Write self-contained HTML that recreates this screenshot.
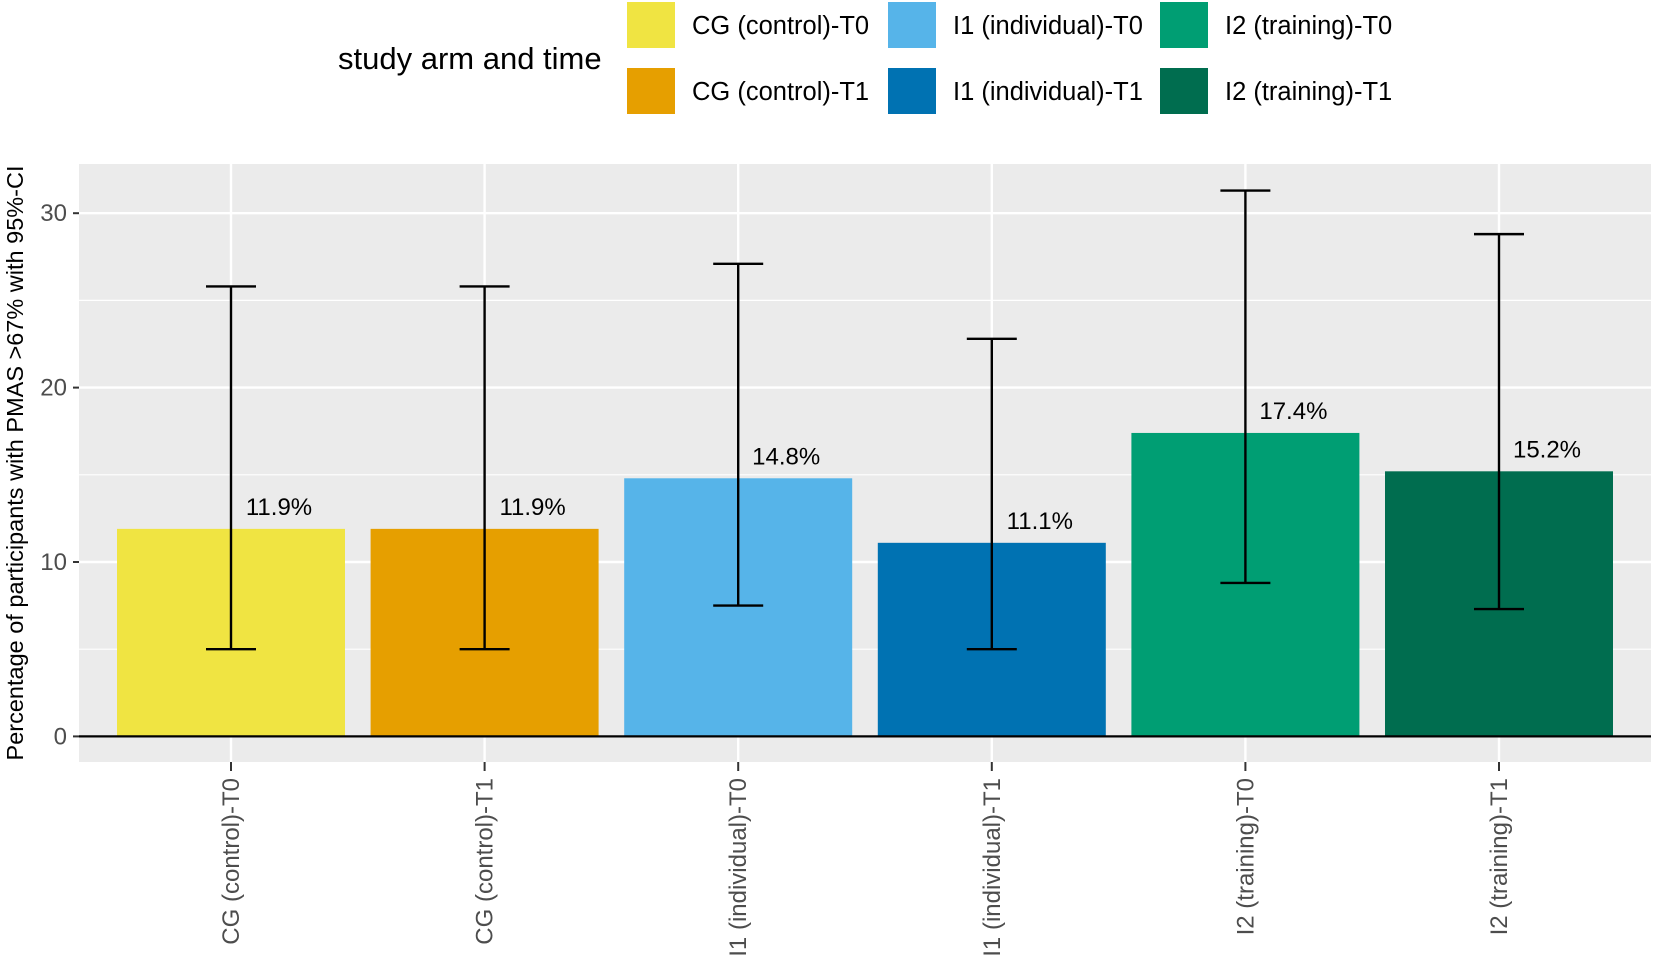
<!DOCTYPE html>
<html><head><meta charset="utf-8"><style>
body{margin:0;background:#fff;}
svg{display:block;font-family:"Liberation Sans",Arial,sans-serif;}
</style></head><body>
<svg id="chart" width="1654" height="972">
<g id="legend"></g>
<g id="plot"></g>
</svg>
<script>
const categories=["CG (control)-T0","CG (control)-T1","I1 (individual)-T0","I1 (individual)-T1","I2 (training)-T0","I2 (training)-T1"];
const values=[11.9,11.9,14.8,11.1,17.4,15.2];
const lower=[5.0,5.0,7.5,5.0,8.8,7.3];
const upper=[25.8,25.8,27.1,22.8,31.3,28.8];
const valueLabels=["11.9%","11.9%","14.8%","11.1%","17.4%","15.2%"];
const yTicks=[0,10,20,30];
const yMinor=[5,15,25];
const colors=["#F0E442","#E69F00","#56B4E9","#0072B2","#009E73","#006D4F"];
const NS="http://www.w3.org/2000/svg";
const P={l:79,r:1651,t:164,b:762};
const y0=736.4,unit=17.44;
const yS=v=>y0-v*unit;
const step=253.6,x0=231;
const xS=i=>x0+i*step;
function mk(tag,attrs,parent){const e=document.createElementNS(NS,tag);for(const k in attrs)e.setAttribute(k,attrs[k]);parent.appendChild(e);return e;}
const plot=document.getElementById('plot');
const bg=mk('rect',{x:P.l,y:P.t,width:P.r-P.l,height:P.b-P.t,fill:'#EBEBEB'},plot);


yMinor.forEach(v=>{const l=mk('line',{x1:P.l,x2:P.r,y1:yS(v),y2:yS(v),stroke:'#fff','stroke-width':1.2},plot);

});
yTicks.forEach(v=>{const l=mk('line',{x1:P.l,x2:P.r,y1:yS(v),y2:yS(v),stroke:'#fff','stroke-width':2.4},plot);


const t=mk('line',{x1:P.l-6,x2:P.l,y1:yS(v),y2:yS(v),stroke:'#333','stroke-width':2},plot);


const tx=mk('text',{x:P.l-12,y:yS(v)+8,'text-anchor':'end','font-size':24,fill:'#4D4D4D'},plot);
tx.textContent=v;

});
categories.forEach((c,i)=>{const l=mk('line',{x1:xS(i),x2:xS(i),y1:P.t,y2:P.b,stroke:'#fff','stroke-width':2.4},plot);

});
const bw=228;
categories.forEach((c,i)=>{
const b=mk('rect',{x:xS(i)-bw/2,y:yS(values[i]),width:bw,height:y0-yS(values[i]),fill:colors[i]},plot);


const g=mk('g',{stroke:'#000','stroke-width':2.4},plot);


mk('line',{x1:xS(i),x2:xS(i),y1:yS(upper[i]),y2:yS(lower[i])},g);
mk('line',{x1:xS(i)-25,x2:xS(i)+25,y1:yS(upper[i]),y2:yS(upper[i])},g);
mk('line',{x1:xS(i)-25,x2:xS(i)+25,y1:yS(lower[i]),y2:yS(lower[i])},g);
const t=mk('text',{x:xS(i)+48,y:yS(values[i])-14,'text-anchor':'middle','font-size':24,fill:'#000'},plot);
t.textContent=valueLabels[i];


const tk=mk('line',{x1:xS(i),x2:xS(i),y1:P.b,y2:P.b+9,stroke:'#333','stroke-width':2},plot);


const xt=mk('text',{x:0,y:0,'text-anchor':'end','font-size':24,fill:'#4D4D4D',transform:`translate(${xS(i)+8},${P.b+16}) rotate(-90)`},plot);
xt.textContent=c;


});
const ax=mk('line',{x1:P.l,x2:P.r,y1:y0,y2:y0,stroke:'#000','stroke-width':2.2},plot);


const yt=mk('text',{x:0,y:0,'text-anchor':'middle','font-size':23.5,fill:'#000',transform:`translate(23,${(P.t+P.b)/2}) rotate(-90)`},plot);
yt.textContent="Percentage of participants with PMAS >67% with 95%-CI";


const lg=document.getElementById('legend');
const lt=mk('text',{x:338,y:69,'font-size':31,fill:'#000'},lg);
lt.textContent="study arm and time";


const colX=[627,888,1160];const rowY=[2,68];
categories.forEach((c,i)=>{const col=Math.floor(i/2),row=i%2;
const g=mk('g',{},lg);


mk('rect',{x:colX[col],y:rowY[row],width:48,height:46,fill:colors[i]},g);
const t=mk('text',{x:colX[col]+65,y:rowY[row]+32,'font-size':25.5,fill:'#000'},g);
t.textContent=c;});
</script>
</body></html>
